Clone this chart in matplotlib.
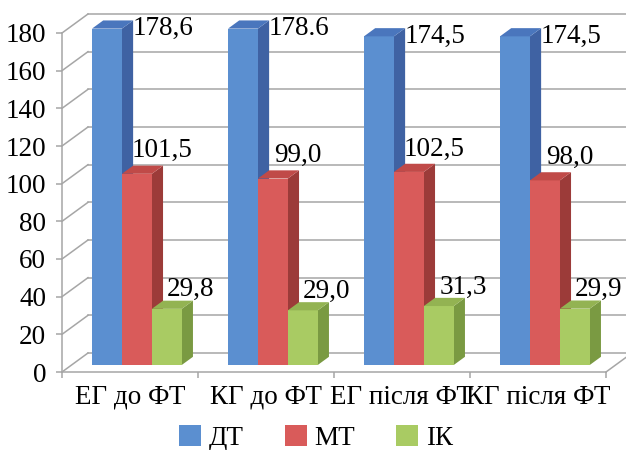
import matplotlib
matplotlib.use('Agg')
from matplotlib import pyplot as plt
from matplotlib.patches import Polygon, Patch

categories = ['ЕГ до ФТ', 'КГ до ФТ', 'ЕГ після ФТ', 'КГ після ФТ']
series_names = ['ДТ', 'МТ', 'ІК']
dt_values = [178.6, 178.6, 174.5, 174.5]
mt_values = [101.5, 99.0, 102.5, 98.0]
ik_values = [29.8, 29.0, 31.3, 29.9]
dt_labels = ['178,6', '178.6', '174,5', '174,5']
mt_labels = ['101,5', '99,0', '102,5', '98,0']
ik_labels = ['29,8', '29,0', '31,3', '29,9']
y_ticks = [0, 20, 40, 60, 80, 100, 120, 140, 160, 180]

front_colors = ['#5b8fd0', '#d95b5a', '#a9cb63']
side_colors = ['#3f62a3', '#9c3b39', '#7a9a42']
top_colors = ['#4a76bd', '#c04a48', '#93b352']
grid_color = '#a6a6a6'
FS = 19.5

plt.rcParams['font.family'] = ['Liberation Serif', 'DejaVu Serif']

W, H = 626, 450
fig = plt.figure(figsize=(W / 100, H / 100), dpi=100)
# front plane of the 3d box: x 62..606 px, y 372..33 px
ax = fig.add_axes([62 / W, (H - 372) / H, (606 - 62) / W, (372 - 33) / H])
ax.set_xlim(0, 4)
ax.set_ylim(0, 180)

# depth offset of the back wall in data units
DX = 26 / 136
DY = 19 / (339 / 180)


def proj(x, y, d):
    return (x + d * DX, y + d * DY)


# back wall gridlines and left side wall
for v in y_ticks:
    ax.plot([DX, 4 + DX], [v + DY, v + DY], color=grid_color, lw=1.1, clip_on=False, zorder=1)
    ax.plot([0, DX], [v, v + DY], color=grid_color, lw=1.1, clip_on=False, zorder=1)
# floor right edge
ax.plot([4, 4 + DX], [0, DY], color=grid_color, lw=1.1, clip_on=False, zorder=1)

# bars
bar_w = 0.22
bar_start = 0.15
d0, d1 = 0.37, 0.80
all_values = [dt_values, mt_values, ik_values]
all_labels = [dt_labels, mt_labels, ik_labels]
label_offsets = [(56, 0), (25, 23), (24, 19)]
for g in range(len(categories)):
    for s in range(3):
        v = all_values[s][g]
        x0 = g + bar_start + s * bar_w
        x1 = x0 + bar_w
        fx0, fb = proj(x0, 0, d0)
        fx1, _ = proj(x1, 0, d0)
        ft = v + fb
        side = [proj(x1, 0, d0), proj(x1, 0, d1), proj(x1, v, d1), proj(x1, v, d0)]
        ax.add_patch(Polygon(side, closed=True, facecolor=side_colors[s],
                             edgecolor='none', clip_on=False, zorder=3))
        ax.bar(fx0, v, width=bar_w, bottom=fb, align='edge', color=front_colors[s],
               edgecolor='none', clip_on=False, zorder=4)
        top = [proj(x0, v, d0), proj(x1, v, d0), proj(x1, v, d1), proj(x0, v, d1)]
        ax.add_patch(Polygon(top, closed=True, facecolor=top_colors[s],
                             edgecolor='none', clip_on=False, zorder=5))
        ox, oy = label_offsets[s]
        ax.annotate(all_labels[s][g], xy=((fx0 + fx1) / 2, ft), xytext=(ox * 0.72, oy * 0.72),
                    textcoords='offset points', ha='center', va='center',
                    fontsize=FS, zorder=6, annotation_clip=False)

# axes styling
for name in ['top', 'right']:
    ax.spines[name].set_visible(False)
for name in ['left', 'bottom']:
    ax.spines[name].set_color(grid_color)
    ax.spines[name].set_linewidth(1.1)
ax.spines['left'].set_zorder(2)
ax.spines['bottom'].set_zorder(2)
ax.set_facecolor('none')
ax.set_yticks(y_ticks)
ax.tick_params(axis='y', direction='out', length=4.5, width=1.1, color=grid_color,
               labelsize=FS, pad=7)
ax.set_xticks([0, 1, 2, 3, 4])
ax.set_xticklabels([])
ax.set_xticks([0.5, 1.5, 2.5, 3.5], minor=True)
ax.set_xticklabels(categories, minor=True)
ax.tick_params(axis='x', which='major', direction='out', length=4.5, width=1.1, color=grid_color)
ax.tick_params(axis='x', which='minor', length=0, labelsize=FS, pad=9)

handles = [Patch(facecolor=c, edgecolor='none') for c in front_colors]
fig.legend(handles, series_names, loc='center', bbox_to_anchor=(0.505, (H - 438) / H),
           ncol=3, frameon=False, prop={'family': ['Liberation Serif'], 'size': FS},
           handlelength=0.8, handleheight=0.8,
           handletextpad=0.3, borderpad=0.05, columnspacing=1.5)

fig.savefig('out.png', dpi=100)
